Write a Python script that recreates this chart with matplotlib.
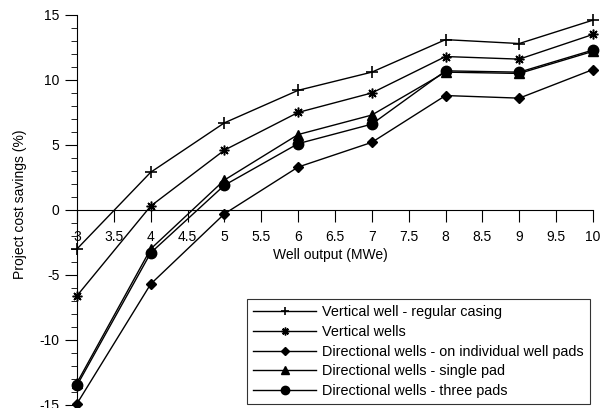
import numpy as np
import matplotlib.pyplot as plt
from matplotlib.ticker import MultipleLocator

plt.rcParams['font.family'] = ['Liberation Sans', 'DejaVu Sans']
plt.rcParams['font.size'] = 10
plt.rcParams['axes.unicode_minus'] = False

output = [3, 4, 5, 6, 7, 8, 9, 10]
regular_casing = [-3.0, 2.9, 6.7, 9.2, 10.6, 13.1, 12.8, 14.6]
vertical = [-6.6, 0.3, 4.6, 7.5, 9.0, 11.8, 11.6, 13.5]
dir_individual = [-14.9, -5.7, -0.3, 3.3, 5.2, 8.8, 8.6, 10.8]
dir_single = [-13.3, -3.0, 2.3, 5.8, 7.3, 10.6, 10.5, 12.2]
dir_three = [-13.5, -3.3, 1.9, 5.1, 6.6, 10.7, 10.6, 12.3]
xlabels = ['3', '3.5', '4', '4.5', '5', '5.5', '6', '6.5', '7',
           '7.5', '8', '8.5', '9', '9.5', '10']

fig = plt.figure(figsize=(6.06, 4.08), dpi=100)
ax = fig.add_axes([0.127, 0.0074, 0.8515, 0.956])

ax.plot(output, regular_casing, 'k-', marker='+', ms=8, mew=1.2, lw=1,
        label='Vertical well - regular casing', clip_on=False)
ax.plot(output, vertical, 'k-', marker=(8, 2, 0), ms=7, mew=1.1, lw=1,
        label='Vertical wells', clip_on=False)
ax.plot(output, dir_individual, 'k-', marker='D', ms=5, lw=1,
        label='Directional wells - on individual well pads', clip_on=False)
ax.plot(output, dir_single, 'k-', marker='^', ms=6.5, lw=1,
        label='Directional wells - single pad', clip_on=False)
ax.plot(output, dir_three, 'k-', marker='o', ms=7.5, lw=1,
        label='Directional wells - three pads', clip_on=False)

ax.set_xlim(3, 10)
ax.set_ylim(-15, 15)
ax.spines['top'].set_visible(False)
ax.spines['right'].set_visible(False)
ax.spines['left'].set_position(('data', 3))
ax.spines['bottom'].set_position(('data', 0))
ax.set_xticks(np.arange(3, 10.01, 0.5))
ax.set_xticklabels(xlabels)
ax.yaxis.set_major_locator(MultipleLocator(5))
ax.yaxis.set_minor_locator(MultipleLocator(1))
ax.tick_params(axis='x', direction='out', length=8.5, pad=6, labelsize=10)
ax.tick_params(axis='y', which='major', direction='out', length=8.5,
               pad=4, labelsize=10)
ax.tick_params(axis='y', which='minor', direction='out', length=4.5)

fig.text(0.545, 0.375, 'Well output (MWe)', ha='center', va='center',
         fontsize=10)
fig.text(0.033, 0.5, 'Project cost savings (%)', rotation=90,
         ha='center', va='center', fontsize=10)

leg = ax.legend(loc='lower right', bbox_to_anchor=(0.973, 0.0098),
                bbox_transform=fig.transFigure, borderaxespad=0,
                fontsize=10.4, frameon=True, fancybox=False,
                edgecolor='black', handlelength=4.4, borderpad=0.4,
                labelspacing=0.4, handletextpad=0.4, markerscale=0.8)
leg.get_frame().set_linewidth(0.8)

fig.savefig('out.png')
